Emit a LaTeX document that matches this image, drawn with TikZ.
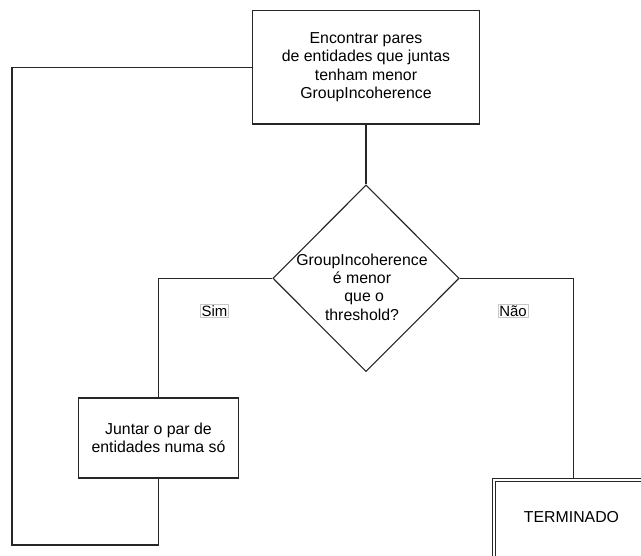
\documentclass[tikz,border=0pt]{standalone}
\usepackage{fontspec}
\setmainfont{Liberation Sans}
\usetikzlibrary{shapes.geometric}
\begin{document}
\begin{tikzpicture}[x=1bp,y=-1bp,
  txt/.style={font=\fontsize{15.9}{18.5}\selectfont, text=black, align=center},
  proc/.style={txt, draw=black!85, line width=1.1bp, rectangle, inner sep=0pt},
  decision/.style={draw=black!85, line width=1.1bp, diamond, shape aspect=1, inner sep=0pt},
  endbox/.style={txt, draw=black!85, line width=0.9bp, double, double distance=1.9bp, rectangle, inner sep=0pt},
  branch/.style={font=\fontsize{15}{17}\selectfont, text=black, draw=black!22, line width=0.5bp, inner sep=1.2bp},
  link/.style={draw=black!85, line width=1.1bp}
]
\useasboundingbox (0,0) rectangle (641,556);

% boxes
\node[proc, minimum width=226.3bp, minimum height=113.3bp] (find) at (366,67.4)
  {Encontrar pares\\de entidades que juntas\\tenham menor\\GroupIncoherence};
\node[decision, minimum width=186.3bp, minimum height=186.7bp] (dec) at (366,278.3) {};
\node[txt] (dectext) at (362,287) {GroupIncoherence\\é menor\\\ que o\\threshold?};
\node[proc, minimum width=160bp, minimum height=80bp] (merge) at (158.5,438)
  {Juntar o par de\\entidades numa só};
\node[endbox, minimum width=159bp, minimum height=79.5bp] (term) at (573.3,519.5) {};
\node[txt] (termtext) at (571.5,517) {TERMINADO};

% branch labels
\node[branch] (sim) at (214.5,311) {Sim};
\node[branch] (nao) at (513,311) {Não};

% loop-back corners
\coordinate (lb) at (12,545);
\coordinate (lt) at (12,67.4);

% connectors
\draw[link] (find.south) -- (dec.north);
\draw[link] (dec.west) -| (merge.north);
\draw[link] (dec.east) -| (term.north);
\draw[link] (merge.south) |- (lb) -- (lt) -- (find.west);
\end{tikzpicture}
\end{document}
